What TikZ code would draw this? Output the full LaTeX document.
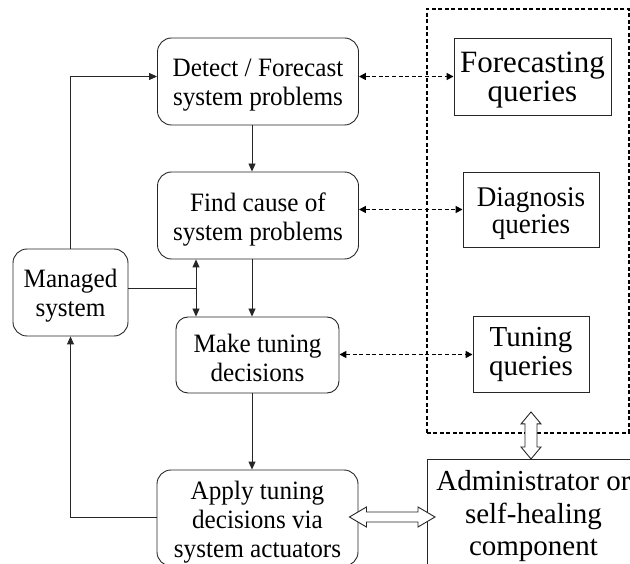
\documentclass[tikz,border=0pt]{standalone}
\usepackage{fontspec}
\setmainfont{Liberation Serif}
\newfontfamily\tallserif{Liberation Serif}[FakeStretch=0.95]
\usetikzlibrary{arrows.meta,calc}

\begin{document}
\begin{tikzpicture}[x=1pt,y=-1pt,
  rbox/.style={draw=black!85, line width=0.9pt, rounded corners=14pt, inner sep=0pt},
  qbox/.style={draw=black!85, line width=0.9pt, inner sep=0pt},
  grpframe/.style={draw=black, line width=1.6pt, dash pattern=on 4pt off 2.5pt, inner sep=0pt},
  mtxt/.style={font=\tallserif\fontsize{26.5}{29}\selectfont, align=center, inner sep=0pt},
  qtxt/.style={font=\fontsize{29}{28.5}\selectfont, align=center, inner sep=0pt},
  atxt/.style={font=\fontsize{29}{32.5}\selectfont, align=center, inner sep=0pt},
  flow/.style={draw=black!85, line width=0.9pt, -{Triangle[length=8pt,width=7pt]}},
  biflow/.style={draw=black!85, line width=0.9pt, {Triangle[length=8pt,width=7pt]}-{Triangle[length=8pt,width=7pt]}},
  query/.style={draw=black, line width=1.6pt, dash pattern=on 4pt off 2.6pt,
    {Triangle[length=7pt,width=7pt]}-{Triangle[length=7pt,width=7pt]}},
  hollow/.style={draw=black!85, line width=0.9pt, fill=white, line join=miter}
]
\useasboundingbox (0,0) rectangle (630,564);
\clip (0,0) rectangle (630,564);

% dashed frame around the query boxes
\node[grpframe, minimum width=202pt, minimum height=424pt, anchor=north west] (grp) at (426,8) {};

% main pipeline
\node[rbox, minimum width=201pt, minimum height=87pt,
  label={[mtxt,yshift=-4pt]center:{Detect / Forecast\\system problems}}] (det) at (258,81.5) {};
\node[rbox, minimum width=201pt, minimum height=87pt,
  label={[mtxt,yshift=-4pt]center:{Find cause of\\system problems}}] (find) at (258,215.5) {};
\node[rbox, minimum width=163pt, minimum height=76pt, rounded corners=12pt,
  label={[mtxt,yshift=-3pt]center:{Make tuning\\decisions}}] (make) at (257.5,355) {};
\node[rbox, minimum width=201pt, minimum height=96pt,
  label={[mtxt,yshift=-4pt]center:{Apply tuning\\decisions via\\system actuators}}] (app) at (257.5,518) {};
\node[rbox, minimum width=115pt, minimum height=87pt,
  label={[mtxt,yshift=-3pt]center:{Managed\\system}}] (man) at (70.5,292.5) {};

% query boxes
\node[qbox, minimum width=157pt, minimum height=77pt,
  label={[qtxt,font=\fontsize{31}{29}\selectfont,yshift=-4pt]center:{Forecasting\\queries}}] (fc) at (532.5,76.5) {};
\node[qbox, minimum width=136pt, minimum height=75pt,
  label={[qtxt,font=\tallserif\fontsize{28.5}{27.5}\selectfont,yshift=-4pt]center:{Diagnosis\\queries}}] (diag) at (531,209.5) {};
\node[qbox, minimum width=116pt, minimum height=76pt,
  label={[qtxt]center:{Tuning\\queries}}] (tune) at (531,354.5) {};

% administrator
\node[qbox, minimum width=212pt, minimum height=114pt, anchor=north west,
  label={[atxt]center:{Administrator or\\self-healing\\component}}] (adm) at (427,459) {};

% helper columns and rows
\coordinate (ax) at (252,0);
\coordinate (bx) at (196,0);
\coordinate (my) at (0,288);

% control flow
\draw[flow] (man.north) |- (det.west |- fc.west);
\draw[flow] (ax |- det.south) -- (ax |- find.north);
\draw[flow] (ax |- find.south) -- (ax |- make.north);
\draw[flow] (ax |- make.south) -- (ax |- app.north);
\draw[biflow] (bx |- find.south) -- (bx |- make.north);
\draw[draw=black!85, line width=0.9pt] (man.east |- my) -- (bx |- my);
\draw[flow] ([yshift=1pt]app.west) -| (man.south);

% query links
\draw[query] (det.east |- fc.west) -- (fc.west);
\draw[query] (find.east |- diag.west) -- (diag.west);
\draw[query] (make.east |- tune.west) -- (tune.west);

% hollow double arrows
\coordinate (vt) at ([yshift=-19pt]tune.south);
\coordinate (vb) at (tune.south |- adm.north);
\draw[hollow] (vt) -- ++(10,12) -- ++(-4,0) -- ($(vb)+(6,-12)$) -- ++(4,0) -- (vb)
  -- ++(-10,-12) -- ++(4,0) -- ($(vt)+(-6,12)$) -- ++(-4,0) -- cycle;

\coordinate (hl) at ([xshift=-9pt,yshift=1pt]app.east);
\coordinate (hr) at ([xshift=8pt]adm.west |- hl);
\draw[hollow] (hl) -- ++(17,-10) -- ++(0,5) -- ($(hr)+(-17,-5)$) -- ++(0,-5) -- (hr)
  -- ++(-17,10) -- ++(0,-5) -- ($(hl)+(17,5)$) -- ++(0,5) -- cycle;
\end{tikzpicture}
\end{document}
